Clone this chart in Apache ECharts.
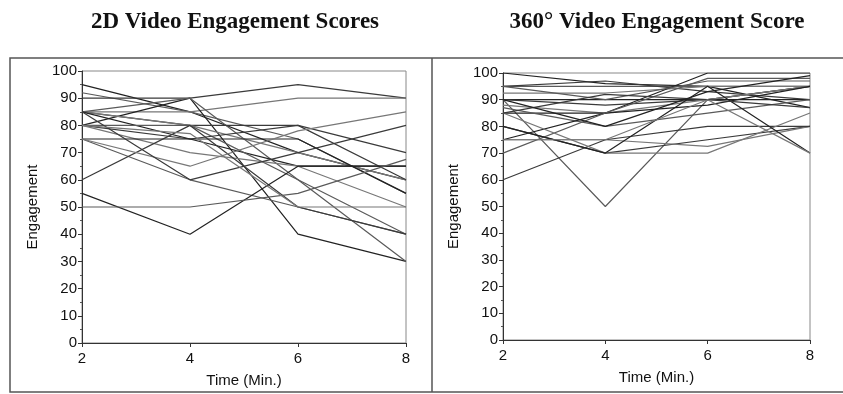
<!DOCTYPE html>
<html>
<head>
<meta charset="utf-8">
<script src="https://cdn.jsdelivr.net/npm/echarts@6/dist/echarts.min.js"></script>
<style>
  html, body { margin: 0; padding: 0; background: #fff; }
  #chart { width: 843px; height: 394px; }
</style>
</head>
<body>
<div id="chart"></div>
<script>
// time points (minutes)
const times = [2, 4, 6, 8];

// 2D video: one row per participant, engagement at 2/4/6/8 min
const scores2D = [
  [95, 85, 70, 60],
  [92, 85, 75, 55],
  [90, 90, 95, 90],
  [85, 85, 90, 90],
  [80, 90, 40, 30],
  [85, 90, 60, 30],
  [85, 80, 80, 70],
  [85, 80, 70, 60],
  [85, 75, 65, 65],
  [80, 80, 60, 40],
  [80, 75, 80, 60],
  [80, 70, 65, 50],
  [75, 75, 75, 55],
  [75, 60, 50, 40],
  [60, 80, 50, 40],
  [75, 65, 78, 85],
  [55, 40, 65, 65],
  [50, 50, 55, 67.5],
  [85, 60, 70, 80],
  [80, 77, 50, 50]
];

// 360 video
const scores360 = [
  [100, 96, 95, 87],
  [95, 95, 95, 95],
  [95, 97, 93, 90],
  [92.5, 92.5, 95, 95],
  [90, 90, 90, 90],
  [90, 50, 90, 95],
  [90, 88, 90, 95],
  [88, 85, 90, 95],
  [85, 85, 88, 95],
  [87, 80, 85, 90],
  [80, 70, 75, 80],
  [75, 75, 72.5, 80],
  [75, 85, 100, 100],
  [70, 85, 98, 98],
  [60, 75, 80, 80],
  [85, 70, 70, 85],
  [80, 70, 95, 70],
  [95, 90, 97, 97],
  [85, 92, 90, 87],
  [75, 75, 90, 70],
  [90, 80, 93, 99]
];

const yTicks = [0, 100, 10];
const lineColors = ['#222', '#5a5a5a', '#3a3a3a', '#777'];

const chart = echarts.init(document.getElementById('chart'));

function makeXAxis(gridIndex) {
  return {
    gridIndex,
    type: 'value',
    min: 2,
    max: 8,
    interval: 2,
    axisLine: { show: true, onZero: false, lineStyle: { color: '#333', width: 1 } },
    axisTick: { show: true, inside: false, length: 4, lineStyle: { color: '#333' } },
    axisLabel: { color: '#111', fontSize: 15, fontFamily: 'Liberation Sans, Arial', margin: 8 },
    splitLine: { show: false },
    name: 'Time (Min.)',
    nameLocation: 'middle',
    nameGap: 30,
    nameTextStyle: { color: '#111', fontSize: 15, fontFamily: 'Liberation Sans, Arial' }
  };
}

function makeYAxis(gridIndex) {
  return {
    gridIndex,
    type: 'value',
    min: yTicks[0],
    max: yTicks[1],
    interval: yTicks[2],
    axisLine: { show: true, lineStyle: { color: '#333', width: 1 } },
    axisTick: { show: true, length: 4, lineStyle: { color: '#333' } },
    minorTick: { show: true, splitNumber: 2, length: 2, lineStyle: { color: '#555' } },
    axisLabel: { color: '#111', fontSize: 15, fontFamily: 'Liberation Sans, Arial', margin: 5 },
    splitLine: { show: false },
    name: 'Engagement',
    nameLocation: 'middle',
    nameRotate: 90,
    nameGap: 42,
    nameTextStyle: { color: '#111', fontSize: 15, fontFamily: 'Liberation Sans, Arial' }
  };
}

function makeSeries(rows, idx) {
  return rows.map((row, i) => ({
    type: 'line',
    xAxisIndex: idx,
    yAxisIndex: idx,
    data: times.map((t, j) => [t, row[j]]),
    symbol: 'none',
    silent: true,
    lineStyle: { color: lineColors[i % lineColors.length], width: 1.2 }
  }));
}

const titleStyle = { fontFamily: 'Liberation Serif, Times New Roman', fontWeight: 'bold', fontSize: 23, color: '#111' };

const option = {
  animation: false,
  title: [
    { text: '2D Video Engagement Scores', left: 230, top: 6, textAlign: 'center', textStyle: titleStyle },
    { text: '360° Video Engagement Score', left: 652, top: 6, textAlign: 'center', textStyle: titleStyle }
  ],
  graphic: [
    {
      type: 'rect',
      shape: { x: 10, y: 58, width: 840, height: 334 },
      style: { fill: 'none', stroke: '#555', lineWidth: 1.5 },
      silent: true
    },
    {
      type: 'line',
      shape: { x1: 432, y1: 58, x2: 432, y2: 392 },
      style: { stroke: '#555', lineWidth: 1.5 },
      silent: true
    }
  ],
  grid: [
    { left: 82, right: 437, top: 71, bottom: 51, show: true, borderColor: '#888', borderWidth: 1 },
    { left: 503, right: 33, top: 73, bottom: 54, show: true, borderColor: '#888', borderWidth: 1 }
  ],
  xAxis: [makeXAxis(0), makeXAxis(1)],
  yAxis: [makeYAxis(0), makeYAxis(1)],
  series: [...makeSeries(scores2D, 0), ...makeSeries(scores360, 1)]
};

chart.setOption(option);
</script>
</body>
</html>
